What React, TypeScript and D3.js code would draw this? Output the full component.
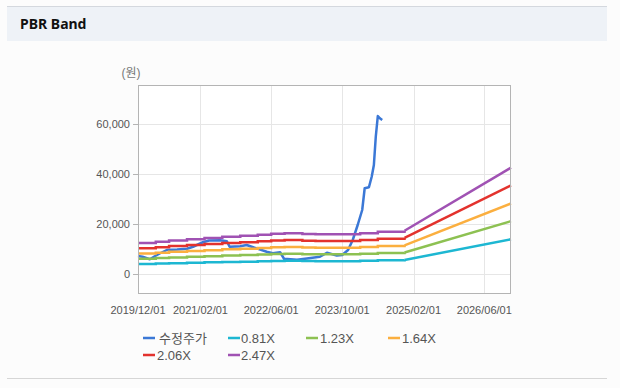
import * as d3 from "d3";

const W = 620;
const H = 388;

const X_TICKS = ["2019/12/01", "2021/02/01", "2022/06/01", "2023/10/01", "2025/02/01", "2026/06/01"];
const Y_TICKS = [0, 20000, 40000, 60000];

// 수정주가 (adjusted price)
const PRICE_DATES = [
  "2019-12-01", "2020-01-01", "2020-02-20", "2020-03-25", "2020-05-01", "2020-06-15",
  "2020-08-25", "2020-11-01", "2020-12-12", "2021-02-18", "2021-04-01", "2021-06-15",
  "2021-08-01", "2021-08-20", "2021-11-01", "2021-12-15", "2022-01-28", "2022-05-01",
  "2022-06-12", "2022-08-01", "2022-08-28", "2022-11-25", "2023-02-01", "2023-05-01",
  "2023-06-18", "2023-08-25", "2023-10-01", "2023-11-10", "2023-12-12", "2024-01-15",
  "2024-02-15", "2024-03-03", "2024-04-01", "2024-04-20", "2024-05-05", "2024-05-18",
  "2024-06-01", "2024-06-15", "2024-07-01",
];
const PRICE = [
  7300, 7000, 6000, 7200, 8400, 9700,
  9900, 10200, 11000, 12800, 13500, 13600,
  13200, 11000, 11200, 11700, 10800, 9000,
  8400, 8800, 6200, 5800, 6300, 7000,
  8600, 7500, 7700, 9700, 13700, 19700,
  25700, 34400, 34800, 39000, 43700, 55000,
  63300, 62400, 61700,
];

// band dates (quarterly book value steps, then projection)
const BAND_DATES = [
  "2019-12-01", "2020-04-01", "2020-07-01", "2020-11-01", "2021-03-01", "2021-07-01",
  "2021-11-01", "2022-03-01", "2022-06-01", "2022-09-01", "2023-01-01", "2023-04-01",
  "2024-02-01", "2024-06-01", "2024-12-01", "2026-12-01",
];
const BAND_081 = [4099, 4261, 4431, 4593, 4755, 4917, 5046, 5184, 5314, 5378, 5281, 5249, 5378, 5573, 5711, 13981];
const BAND_123 = [6224, 6470, 6728, 6974, 7220, 7466, 7663, 7872, 8069, 8167, 8020, 7970, 8167, 8462, 8672, 21230];
const BAND_164 = [8298, 8626, 8971, 9299, 9627, 9955, 10217, 10496, 10758, 10890, 10693, 10627, 10890, 11283, 11562, 28306];
const BAND_206 = [10424, 10836, 11268, 11680, 12092, 12504, 12834, 13184, 13514, 13678, 13431, 13349, 13678, 14173, 14523, 35556];
const BAND_247 = [12498, 12992, 13511, 14005, 14499, 14993, 15388, 15808, 16203, 16401, 16104, 16006, 16401, 16994, 17414, 42632];

const SERIES_NAMES = ["수정주가", "0.81X", "1.23X", "1.64X", "2.06X", "2.47X"];
const COLORS = ["#3b78d6", "#1db7d2", "#8dc152", "#fbaf3f", "#e3322d", "#a052b3"];

const parse = d3.timeParse("%Y-%m-%d");
const parseTick = d3.timeParse("%Y/%m/%d");

type Pt = { date: Date; value: number };

export default function App() {
  const plot = { left: 138, right: 511, top: 85, bottom: 293 };

  const x = d3
    .scaleTime()
    .domain([parse("2019-12-01")!, parse("2026-12-01")!])
    .range([plot.left, plot.right]);

  const y = d3.scaleLinear().domain([-7500, 75700]).range([plot.bottom, plot.top]);

  const pricePts: Pt[] = PRICE_DATES.map((d, i) => ({ date: parse(d)!, value: PRICE[i] }));
  const bands = [BAND_081, BAND_123, BAND_164, BAND_206, BAND_247].map((vals) =>
    BAND_DATES.map((d, i) => ({ date: parse(d)!, value: vals[i] }))
  );

  const lineLinear = d3
    .line<Pt>()
    .x((d) => x(d.date))
    .y((d) => y(d.value));
  const lineStep = d3
    .line<Pt>()
    .x((d) => x(d.date))
    .y((d) => y(d.value))
    .curve(d3.curveStepAfter);

  const font = "'Liberation Sans', Arial, 'Noto Sans CJK KR', sans-serif";
  const lastStep = BAND_DATES.length - 2;

  // legend layout: two rows
  const legendPos = [
    { x: 143, y: 338, tx: 159 },
    { x: 228, y: 338, tx: 241 },
    { x: 306, y: 338, tx: 320 },
    { x: 388, y: 338, tx: 402 },
    { x: 143, y: 355, tx: 157 },
    { x: 228, y: 355, tx: 241 },
  ];

  return (
    <div style={{ position: "absolute", left: 0, top: 0 }}>
      <svg width={W} height={H} style={{ display: "block", background: "#fcfcfc" }}>
        {/* header */}
        <rect x={7} y={6} width={600} height={35} fill="#eef2f7" />
        <line x1={7} x2={607} y1={6.5} y2={6.5} stroke="#d4d8de" />
        <text x={20} y={29} fontFamily="'Noto Sans', 'DejaVu Sans', sans-serif" fontWeight={700} fontSize={14} fill="#111">
          PBR Band
        </text>
        <line x1={7} x2={607} y1={378.5} y2={378.5} stroke="#d6d6d6" />

        {/* unit */}
        <text x={131} y={77} textAnchor="middle" fontFamily={font} fontSize={12} fill="#777">
          (원)
        </text>

        {/* plot bg */}
        <rect x={plot.left} y={plot.top} width={plot.right - plot.left} height={plot.bottom - plot.top} fill="#fff" />

        {/* grid */}
        {Y_TICKS.map((t) => (
          <line key={"gy" + t} x1={plot.left} x2={plot.right} y1={Math.round(y(t)) + 0.5} y2={Math.round(y(t)) + 0.5} stroke="#e6e6e6" />
        ))}
        {X_TICKS.slice(1).map((t) => {
          const xx = Math.round(x(parseTick(t)!)) + 0.5;
          return <line key={"gx" + t} x1={xx} x2={xx} y1={plot.top} y2={plot.bottom} stroke="#e6e6e6" />;
        })}

        {/* price */}
        <path d={lineLinear(pricePts) ?? ""} fill="none" stroke={COLORS[0]} strokeWidth={2.5} strokeLinejoin="round" />

        {/* bands */}
        {bands.map((b, i) => (
          <g key={"band" + i}>
            <path d={lineStep(b.slice(0, lastStep + 1)) ?? ""} fill="none" stroke={COLORS[i + 1]} strokeWidth={2.5} />
            <path d={lineLinear(b.slice(lastStep)) ?? ""} fill="none" stroke={COLORS[i + 1]} strokeWidth={2.5} />
          </g>
        ))}

        {/* frame */}
        <rect
          x={plot.left + 0.5}
          y={plot.top + 0.5}
          width={plot.right - plot.left - 1}
          height={plot.bottom - plot.top}
          fill="none"
          stroke="#b4b4b4"
        />

        {/* y axis */}
        {Y_TICKS.map((t) => (
          <g key={"yt" + t}>
            <line x1={plot.left - 5} x2={plot.left} y1={Math.round(y(t)) + 0.5} y2={Math.round(y(t)) + 0.5} stroke="#b4b4b4" />
            <text x={plot.left - 8} y={y(t) + 4} textAnchor="end" fontFamily={font} fontSize={11} fill="#555">
              {d3.format(",")(t)}
            </text>
          </g>
        ))}

        {/* x axis */}
        {X_TICKS.map((t) => (
          <text key={"xt" + t} x={x(parseTick(t)!)} y={314} textAnchor="middle" fontFamily={font} fontSize={11} fill="#555">
            {t}
          </text>
        ))}

        {/* legend */}
        {SERIES_NAMES.map((name, i) => (
          <g key={"lg" + name}>
            <line x1={legendPos[i].x} x2={legendPos[i].x + 12} y1={legendPos[i].y} y2={legendPos[i].y} stroke={COLORS[i]} strokeWidth={2.5} />
            <text x={legendPos[i].tx} y={legendPos[i].y + 5} fontFamily={font} fontSize={13} fill="#555">
              {name}
            </text>
          </g>
        ))}
      </svg>
    </div>
  );
}
